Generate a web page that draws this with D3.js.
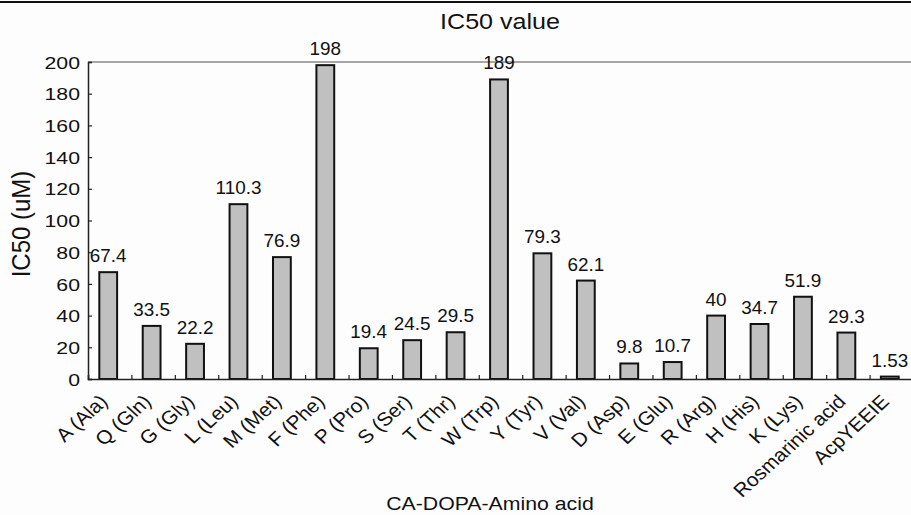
<!DOCTYPE html>
<html>
<head>
<meta charset="utf-8">
<script src="https://cdn.jsdelivr.net/npm/d3@7"></script>
<style>
  body { margin: 0; background: #fdfdfd; }
  svg { display: block; font-family: "Liberation Sans", Arial, sans-serif; }
</style>
</head>
<body>
<svg width="911" height="515"></svg>
<script>
// categories along the x axis
const categories = ["A (Ala)", "Q (Gln)", "G (Gly)", "L (Leu)", "M (Met)", "F (Phe)", "P (Pro)",
  "S (Ser)", "T (Thr)", "W (Trp)", "Y (Tyr)", "V (Val)", "D (Asp)", "E (Glu)", "R (Arg)",
  "H (His)", "K (Lys)", "Rosmarinic acid", "AcpYEEIE"];
// IC50 values (uM)
const ic50 = [67.4, 33.5, 22.2, 110.3, 76.9, 198, 19.4, 24.5, 29.5, 189, 79.3, 62.1, 9.8, 10.7,
  40, 34.7, 51.9, 29.3, 1.53];
const yTicks = [0, 20, 40, 60, 80, 100, 120, 140, 160, 180, 200];

const svg = d3.select("svg");
const plotL = 88, plotR = 913, plotT = 62, plotB = 379;

const x = d3.scaleBand().domain(categories).range([plotL, plotR]);
const xEdge = d3.scaleLinear().domain([0, categories.length]).range([plotL, plotR]);
const y = d3.scaleLinear().domain([0, 200]).range([plotB, plotT]);
const barW = x.bandwidth() * 0.41;
const mid = c => x(c) + x.bandwidth() / 2;

// frame line at the very top
svg.append("line")
   .attr("x1", 0).attr("x2", 911).attr("y1", 2).attr("y2", 2)
   .attr("stroke", "#111").attr("stroke-width", 2);

// top gridline at 200
svg.append("line")
   .attr("x1", plotL).attr("x2", 911).attr("y1", y(200)).attr("y2", y(200))
   .attr("stroke", "#888").attr("stroke-width", 1.5);

// bars
svg.append("g")
   .selectAll("rect")
   .data(ic50)
   .enter()
   .append("rect")
     .attr("x", (d, i) => mid(categories[i]) - 1.5 - barW / 2)
     .attr("y", d => y(d))
     .attr("width", barW)
     .attr("height", d => y(0) - y(d))
     .attr("fill", "#c0c0c0")
     .attr("stroke", "#111")
     .attr("stroke-width", 2);

// value labels
svg.append("g")
   .selectAll("text")
   .data(ic50)
   .enter()
   .append("text")
     .attr("transform", (d, i) => `translate(${mid(categories[i]) - 1.5},${y(d) - 10}) scale(1.05,1)`)
     .attr("text-anchor", "middle")
     .style("font-size", "18px")
     .attr("fill", "#111")
     .text(d => d);

// y axis
const yAxis = svg.append("g")
   .attr("transform", `translate(${plotL},0)`)
   .call(d3.axisLeft(y).tickValues(yTicks).tickSize(-4).tickPadding(0));
yAxis.select(".domain").attr("stroke", "#222").attr("stroke-width", 1.5);
yAxis.selectAll(".tick line").attr("stroke", "#222").attr("stroke-width", 1.2);
yAxis.selectAll(".tick text")
     .attr("x", 0).attr("dy", "0.36em")
     .attr("transform", "translate(-8,0) scale(1.25,1)")
     .style("font-size", "17px").style("font-family", "Liberation Sans, Arial, sans-serif")
     .attr("fill", "#111");

// x axis ticks at category boundaries
const xAxis = svg.append("g")
   .attr("transform", `translate(0,${plotB})`)
   .call(d3.axisBottom(xEdge).tickValues(d3.range(categories.length + 1)).tickSize(-4).tickFormat(""));
xAxis.select(".domain").attr("stroke", "#222").attr("stroke-width", 1.5);
xAxis.selectAll(".tick line").attr("stroke", "#222").attr("stroke-width", 1.2);

// rotated category labels
svg.append("g")
   .selectAll("text")
   .data(categories)
   .enter()
   .append("text")
     .attr("transform", d => `translate(${mid(d) - 6},${plotB + 19}) scale(1.1,1) rotate(-45)`)
     .attr("text-anchor", "end")
     .attr("dy", "0.35em")
     .style("font-size", "19px")
     .attr("fill", "#111")
     .text(d => d);

// titles
svg.append("text")
   .attr("transform", "translate(500,29) scale(1.14,1)")
   .attr("text-anchor", "middle")
   .style("font-size", "22px")
   .attr("fill", "#111")
   .text("IC50 value");

svg.append("text")
   .attr("transform", "translate(30,224) scale(1.1,1) rotate(-90)")
   .attr("text-anchor", "middle")
   .style("font-size", "24px")
   .attr("fill", "#111")
   .text("IC50 (uM)");

svg.append("text")
   .attr("transform", "translate(490,510) scale(1.12,1)")
   .attr("text-anchor", "middle")
   .style("font-size", "19px")
   .attr("fill", "#111")
   .text("CA-DOPA-Amino acid");
</script>
</body>
</html>
